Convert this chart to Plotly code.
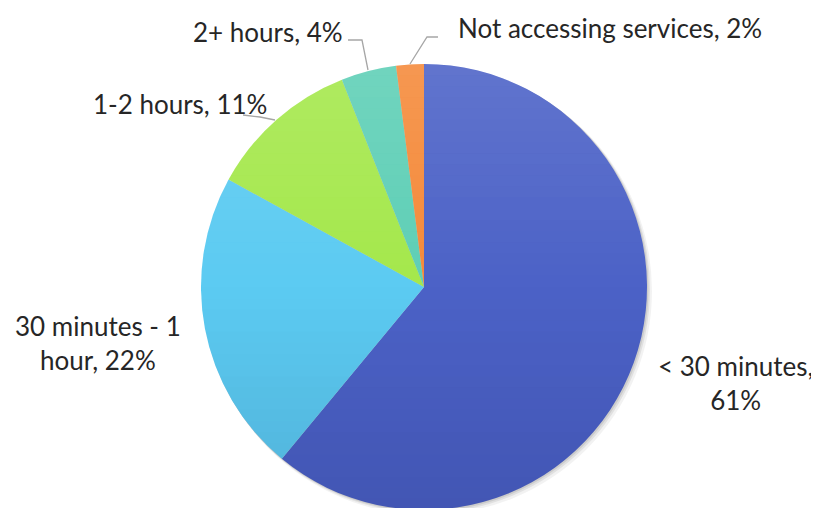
import math
import plotly.graph_objects as go

categories = ["< 30 minutes", "30 minutes - 1 hour", "1-2 hours", "2+ hours", "Not accessing services"]
values = [61, 22, 11, 4, 2]
colors = ["#4c62c7", "#5ccbf2", "#a5e84c", "#5ecfb6", "#f58a3a"]

W, H = 819, 508
OFF = 8  # page body margin


def px(x):
    return (x - OFF) / W


def py(y):
    return 1 - (y - OFF) / H


CX, CY, R = 424, 287, 223

fig = go.Figure()
fig.add_trace(go.Pie(
    labels=categories,
    values=values,
    sort=False,
    direction="clockwise",
    rotation=0,
    marker=dict(colors=colors, line=dict(width=0)),
    textinfo="none",
    hoverinfo="label+percent",
    showlegend=False,
    domain=dict(x=[px(CX - R), px(CX + R)], y=[py(CY + R), py(CY - R)]),
))

# soft shadow behind pie
for d, a in [(5, 0.05), (3, 0.07), (1.5, 0.09)]:
    fig.add_shape(type="circle", xref="paper", yref="paper", layer="below",
                  x0=px(CX - R + d * 0.6), x1=px(CX + R + d), y0=py(CY + R + d), y1=py(CY - R + d * 0.6),
                  fillcolor=f"rgba(0,0,0,{a})", line=dict(width=0))

# vertical shading to mimic gradient fill
N = 40
for i in range(N):
    y0 = CY - R + 2 * R * i / N
    y1 = CY - R + 2 * R * (i + 1) / N
    t = (i + 0.5) / N
    if t < 0.5:
        col = f"rgba(255,255,255,{0.12 * (1 - 2 * t):.3f})"
    else:
        col = f"rgba(0,0,40,{0.12 * (2 * t - 1):.3f})"
    pts_r, pts_l = [], []
    steps = 6
    for k in range(steps + 1):
        yy = y0 + (y1 - y0) * k / steps
        dx = math.sqrt(max(R * R - (yy - CY) ** 2, 0))
        pts_r.append((CX + dx, yy))
        pts_l.append((CX - dx, yy))
    pts = pts_r + pts_l[::-1]
    path = "M " + " L ".join(f"{px(x):.5f},{py(y):.5f}" for x, y in pts) + " Z"
    fig.add_shape(type="path", path=path, xref="paper", yref="paper", layer="above",
                  fillcolor=col, line=dict(width=0))

font = dict(family="Lato, 'Open Sans', sans-serif", size=26, color="#262626")

label_text = [f"{c}, {v}%" for c, v in zip(categories, values)]
annos = [
    dict(text="&lt; 30 minutes,<br>61%", x=px(735), y=py(383), xanchor="center", yanchor="middle", align="center"),
    dict(text="30 minutes - 1<br>hour, 22%", x=px(98), y=py(343), xanchor="center", yanchor="middle", align="center"),
    dict(text=label_text[2], x=px(269), y=py(104), xanchor="right", yanchor="middle", align="right"),
    dict(text=label_text[3], x=px(345), y=py(32), xanchor="right", yanchor="middle", align="right"),
    dict(text=label_text[4], x=px(456), y=py(28), xanchor="left", yanchor="middle", align="left"),
]
for a in annos:
    fig.add_annotation(xref="paper", yref="paper", showarrow=False, font=font, **a)

line_style = dict(color="#a6a6a6", width=1.3)
leaders = [
    [(348, 40), (362, 40), (368, 70)],
    [(438, 37), (427, 37), (410, 64)],
    [(243, 115), (260, 117), (275, 120)],
]
for pts in leaders:
    path = "M " + " L ".join(f"{px(x):.5f},{py(y):.5f}" for x, y in pts)
    fig.add_shape(type="path", path=path, xref="paper", yref="paper", line=line_style)

fig.update_layout(
    width=W, height=H,
    margin=dict(l=0, r=0, t=0, b=0),
    paper_bgcolor="white",
    plot_bgcolor="white",
)

fig.write_html("out.html")
